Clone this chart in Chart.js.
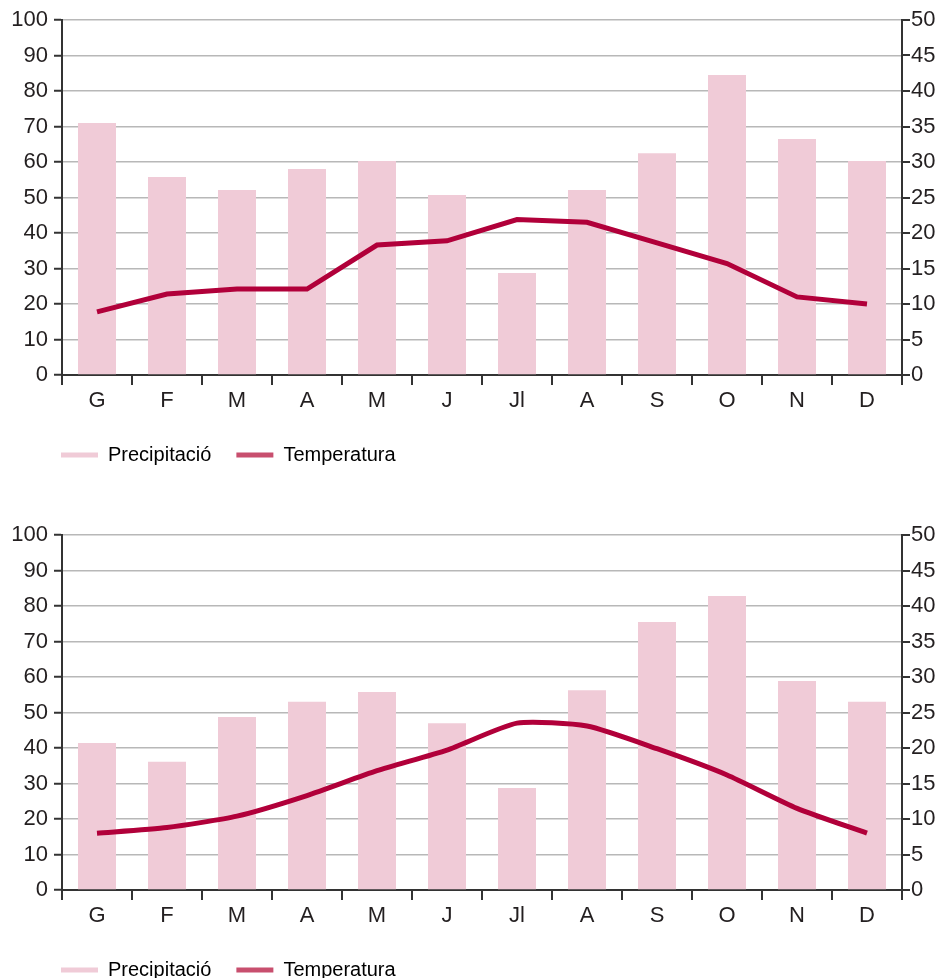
<!DOCTYPE html>
<html>
<head>
<meta charset="utf-8">
<script src="https://cdn.jsdelivr.net/npm/chart.js@4.4.0/dist/chart.umd.min.js"></script>
<style>
    html, body {
        margin: 0;
        padding: 0;
        background: #ffffff;
        overflow: hidden;
    }
    canvas {
        display: block;
    }
</style>
</head>
<body>

<canvas id="chartTop" width="940" height="490"></canvas>
<canvas id="chartBottom" width="940" height="510"></canvas>

<script>
const months = ['G', 'F', 'M', 'A', 'M', 'J', 'Jl', 'A', 'S', 'O', 'N', 'D'];

const precipTop = [71, 55.8, 52.1, 58, 60.3, 50.7, 28.7, 52.1, 62.5, 84.5, 66.5, 60.3];
const tempTop = [8.9, 11.4, 12.1, 12.1, 18.3, 18.9, 21.9, 21.5, 18.6, 15.7, 11.0, 10.0];

const precipBottom = [41.4, 36.1, 48.7, 53.0, 55.8, 47.0, 28.7, 56.3, 75.5, 82.8, 58.9, 53.0];
const tempBottom = [8.0, 8.8, 10.4, 13.3, 16.8, 19.7, 23.5, 23.1, 19.9, 16.2, 11.5, 8.0];

const seriesNames = ['Precipitació', 'Temperatura'];

const barColor = '#f0cbd7';
const lineColor = '#b1003a';
const legendColors = ['#f0cbd7', '#c84f6e'];
const textColor = '#231f20';
const axisColor = '#333333';
const gridColor = '#b8b8b8';

Chart.defaults.font.family = "'Liberation Sans', Arial, sans-serif";
Chart.defaults.color = textColor;

// legend starts under the plot, not at the canvas edge
const legendShift = {
    id: 'legendShift',
    afterLayout(chart) {
        chart.legend.left = chart.chartArea.left - 26;
    }
};

function makeChart(canvasId, precip, temp, tension, padTop, padBottom) {

    const ctx = document.getElementById(canvasId).getContext('2d');

    return new Chart(ctx, {

        type: 'bar',

        data: {
            labels: months,
            datasets: [{
                type: 'bar',
                label: seriesNames[0],
                data: precip,
                backgroundColor: barColor,
                categoryPercentage: 1,
                barPercentage: 38 / 70,
                yAxisID: 'y',
                order: 2
            }, {
                type: 'line',
                label: seriesNames[1],
                data: temp,
                borderColor: lineColor,
                borderWidth: 5,
                pointRadius: 0,
                tension: tension,
                yAxisID: 'y2',
                order: 1
            }]
        },

        plugins: [legendShift],

        options: {
            responsive: false,
            animation: false,
            layout: {
                padding: { top: padTop, left: 0, right: 0, bottom: padBottom }
            },
            plugins: {
                tooltip: { enabled: false },
                legend: {
                    position: 'bottom',
                    align: 'start',
                    labels: {
                        boxWidth: 37,
                        boxHeight: 5,
                        padding: 25,
                        color: textColor,
                        font: { size: 20 },
                        generateLabels: chart =>
                            chart.data.datasets.map((ds, i) => ({
                                text: ds.label,
                                fillStyle: legendColors[i],
                                strokeStyle: legendColors[i],
                                lineWidth: 0,
                                hidden: false,
                                datasetIndex: i
                            }))
                    }
                }
            },
            scales: {
                x: {
                    afterFit: scale => { scale.height = 45; },
                    border: { color: axisColor, width: 2 },
                    grid: {
                        drawOnChartArea: false,
                        drawTicks: true,
                        tickLength: 10,
                        tickColor: axisColor,
                        lineWidth: 2
                    },
                    ticks: {
                        padding: 3,
                        color: textColor,
                        font: { size: 22 }
                    }
                },
                y: {
                    position: 'left',
                    min: 0,
                    max: 100,
                    afterFit: scale => { scale.width = 62; },
                    border: { color: axisColor, width: 2 },
                    grid: {
                        color: c => c.tick.value === 0 ? 'rgba(0,0,0,0)' : gridColor,
                        lineWidth: 1.5,
                        tickLength: 8,
                        tickColor: axisColor,
                        tickWidth: 2
                    },
                    ticks: {
                        stepSize: 10,
                        padding: 6,
                        color: textColor,
                        font: { size: 22 }
                    }
                },
                y2: {
                    position: 'right',
                    min: 0,
                    max: 50,
                    afterFit: scale => { scale.width = 38; },
                    border: { color: axisColor, width: 2 },
                    grid: {
                        drawOnChartArea: false,
                        tickLength: 8,
                        tickColor: axisColor,
                        lineWidth: 2
                    },
                    ticks: {
                        stepSize: 5,
                        padding: 1,
                        color: textColor,
                        font: { size: 22 }
                    }
                }
            }
        }
    });
}

makeChart('chartTop', precipTop, tempTop, 0, 20, 15);
makeChart('chartBottom', precipBottom, tempBottom, 0.2, 45, 10);
</script>
</body>
</html>
